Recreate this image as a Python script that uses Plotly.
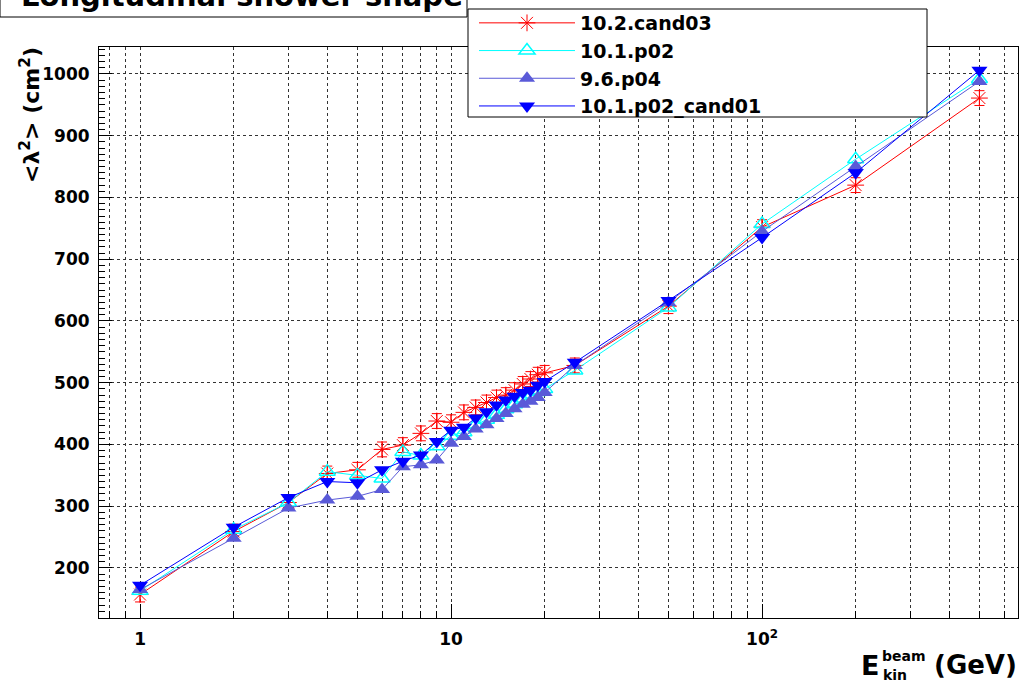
import plotly.graph_objects as go

# ---- data ----
energy = [1, 2, 3, 4, 5, 6, 7, 8, 9, 10, 11, 12, 13, 14, 15, 16, 17, 18, 19, 20, 25, 50, 100, 200, 500]

lam2_cand03 = [157, 259, 306, 353, 359, 392, 399, 418, 438, 436, 452, 460, 468, 476, 480, 488, 498, 506, 513, 516, 528, 624, 752, 820, 961]
err_cand03 = [12] * len(energy)

lam2_p02 = [163, 262, 306, 356, 350, 345, 388, 382, 397, 414, 420, 432, 440, 448, 457, 465, 472, 478, 485, 490, 520, 622, 757, 862, 992]

lam2_96p04 = [165, 248, 297, 310, 316, 327, 364, 367, 375, 402, 413, 425, 432, 442, 450, 458, 465, 470, 476, 484, 528, 630, 745, 850, 988]

lam2_p02_cand01 = [172, 266, 314, 340, 338, 359, 373, 383, 405, 423, 428, 443, 453, 464, 472, 478, 484, 488, 496, 502, 533, 633, 735, 840, 1006]

series_names = ["10.2.cand03", "10.1.p02", "9.6.p04", "10.1.p02_cand01"]

x_tickvals = [1, 10, 100]
x_ticktext = ["1", "10", "10<sup>2</sup>"]
x_minor_vals = [0.8, 0.9, 2, 3, 4, 5, 6, 7, 8, 9, 20, 30, 40, 50, 60, 70, 80, 90, 200, 300, 400, 500, 600]

FONT = "DejaVu Sans"
RED = "#ff0000"
CYAN = "#00ffff"
PURPLE = "#5a5ad8"
BLUE = "#0000ff"
GRID = "#333333"

fig = go.Figure()

fig.add_trace(go.Scatter(
    x=energy, y=lam2_cand03, name=series_names[0], mode="lines+markers",
    line=dict(color=RED, width=1),
    marker=dict(symbol="asterisk-open", size=14, color=RED, line=dict(color=RED, width=1)),
    error_y=dict(type="data", array=err_cand03, color=RED, thickness=1, width=5),
))
fig.add_trace(go.Scatter(
    x=energy, y=lam2_p02, name=series_names[1], mode="lines+markers",
    line=dict(color=CYAN, width=1),
    marker=dict(symbol="triangle-up-open", size=14, color=CYAN, line=dict(color=CYAN, width=1.5)),
))
fig.add_trace(go.Scatter(
    x=energy, y=lam2_96p04, name=series_names[2], mode="lines+markers",
    line=dict(color=PURPLE, width=1),
    marker=dict(symbol="triangle-up", size=14, color=PURPLE, line=dict(width=0)),
))
fig.add_trace(go.Scatter(
    x=energy, y=lam2_p02_cand01, name=series_names[3], mode="lines+markers",
    line=dict(color=BLUE, width=1),
    marker=dict(symbol="triangle-down", size=14, color=BLUE, line=dict(width=0)),
))

L, R, T, B = 99, 4, 47, 68
W, H = 1022, 686
pw, ph = W - L - R, H - T - B

def px(xp):
    return (xp - L) / pw

def py(yp):
    return (H - B - yp) / ph

fig.update_layout(
    width=W, height=H,
    margin=dict(l=L, r=R, t=T, b=B),
    paper_bgcolor="white", plot_bgcolor="white",
    font=dict(family=FONT, color="black"),
    showlegend=True,
    legend=dict(
        x=px(474), y=py(4), xanchor="left", yanchor="top",
        bgcolor="rgba(0,0,0,0)", borderwidth=0,
        font=dict(family=FONT, size=19, color="black", weight="bold"),
        itemwidth=96, tracegroupgap=0,
    ),
    xaxis=dict(
        type="log", range=[-0.132, 2.823],
        tickmode="array", tickvals=x_tickvals, ticktext=x_ticktext,
        ticks="inside", ticklen=14, tickcolor="black", tickwidth=1,
        showline=True, linecolor="black", linewidth=1, mirror=True,
        showgrid=True, gridcolor=GRID, griddash="dot", gridwidth=1,
        minor=dict(tickmode="array", tickvals=x_minor_vals, ticks="inside", ticklen=7,
                   tickcolor="black", showgrid=True, gridcolor=GRID, griddash="dot", gridwidth=1),
        tickfont=dict(family=FONT, size=17, color="black", weight="bold"),
        ticklabelstandoff=6,
        zeroline=False,
    ),
    yaxis=dict(
        range=[119.0, 1043.7],
        tickmode="linear", tick0=0, dtick=100,
        ticks="inside", ticklen=13, tickcolor="black", tickwidth=1,
        showline=True, linecolor="black", linewidth=1, mirror=True,
        showgrid=True, gridcolor=GRID, griddash="dot", gridwidth=1,
        minor=dict(dtick=10, ticks="inside", ticklen=6, tickcolor="black", showgrid=False),
        tickfont=dict(family=FONT, size=17, color="black", weight="bold"),
        ticklabelstandoff=5,
        zeroline=False,
    ),
)

# legend box
fig.add_shape(type="rect", xref="paper", yref="paper",
              x0=px(468), x1=px(927), y0=py(117), y1=py(9),
              line=dict(color="black", width=1), fillcolor="white", layer="above")
# title box
fig.add_shape(type="rect", xref="paper", yref="paper",
              x0=px(0), x1=px(467), y0=py(17), y1=py(-20),
              line=dict(color="black", width=1), fillcolor="white", layer="above")

fig.add_annotation(text="Longitudinal shower shape", xref="paper", yref="paper",
                   x=px(242), y=py(15), xanchor="center", yanchor="bottom", showarrow=False,
                   font=dict(family=FONT, size=29, color="black", weight="bold"))

fig.add_annotation(text="&lt;λ<sup>2</sup>&gt; (cm<sup>2</sup>)", xref="paper", yref="paper",
                   x=px(30), y=py(45), xanchor="center", yanchor="top", textangle=-90, showarrow=False,
                   font=dict(family=FONT, size=22, color="black", weight="bold"))

fig.add_annotation(text="(GeV)", xref="paper", yref="paper",
                   x=px(1019), y=py(665), xanchor="right", yanchor="middle", showarrow=False,
                   font=dict(family=FONT, size=26, color="black", weight="bold"))
fig.add_annotation(text="E", xref="paper", yref="paper",
                   x=px(881), y=py(665), xanchor="right", yanchor="middle", showarrow=False,
                   font=dict(family=FONT, size=27, color="black", weight="bold"))
fig.add_annotation(text="beam", xref="paper", yref="paper",
                   x=px(880), y=py(656), xanchor="left", yanchor="middle", showarrow=False,
                   font=dict(family=FONT, size=14, color="black", weight="bold"))
fig.add_annotation(text="kin", xref="paper", yref="paper",
                   x=px(881), y=py(675), xanchor="left", yanchor="middle", showarrow=False,
                   font=dict(family=FONT, size=14, color="black", weight="bold"))

fig.write_html("out.html")
